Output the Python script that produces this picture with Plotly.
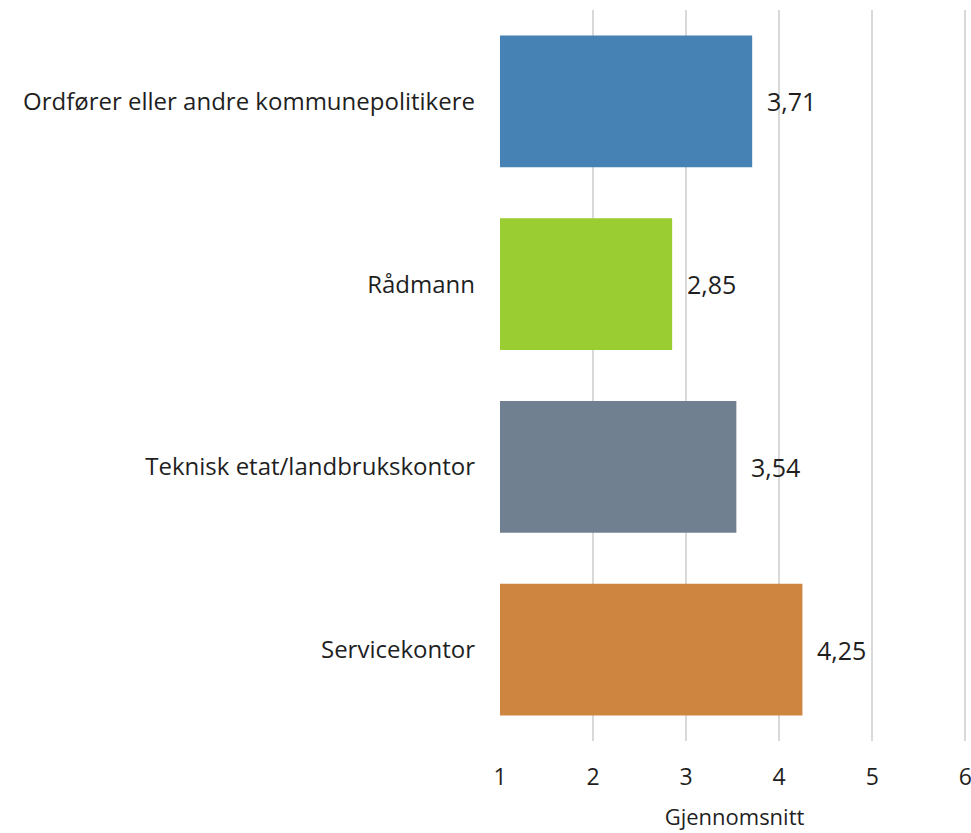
import plotly.graph_objects as go

# Data
categories = ["Ordfører eller andre kommunepolitikere", "Rådmann",
              "Teknisk etat/landbrukskontor", "Servicekontor"]
values = [3.71, 2.85, 3.54, 4.25]
colors = ["#4682B4", "#9ACD32", "#708090", "#CD853F"]
tick_vals = [1, 2, 3, 4, 5, 6]

font_family = "Open Sans, Noto Sans, sans-serif"
text_color = "#1f1f1f"

fig = go.Figure(go.Bar(
    y=categories,
    x=[v - 1 for v in values],
    base=1,
    orientation="h",
    marker=dict(color=colors, line=dict(width=0)),
    hoverinfo="skip",
))

# value labels to the right of each bar
for cat, val in zip(categories, values):
    fig.add_annotation(
        x=val, y=cat, text=f"{val:.2f}".replace(".", ","),
        showarrow=False, xanchor="left", xshift=13,
        font=dict(size=25, color=text_color, family=font_family),
    )

fig.update_layout(
    width=971, height=833,
    margin=dict(l=500, r=2, t=10, b=92),
    plot_bgcolor="white", paper_bgcolor="white",
    bargap=0.28,
    showlegend=False,
    font=dict(family=font_family, size=24, color=text_color),
)
fig.update_xaxes(
    range=[1, 6.04], tickvals=tick_vals, automargin=False,
    showgrid=True, gridcolor="#d9d9d9", gridwidth=2,
    zeroline=False, showline=False, ticks="",
    ticklabelstandoff=20, ticklabeloverflow="allow",
    title=dict(text="Gjennomsnitt", standoff=18, font=dict(size=22)),
    tickfont=dict(size=23),
)
fig.update_yaxes(
    autorange="reversed", showgrid=False, showline=False, ticks="",
    automargin=False,
    ticklabelstandoff=24, tickfont=dict(size=24),
)

# drop the default body margin so the figure fills the window exactly
fig.write_html(
    "out.html",
    config={"displayModeBar": False},
    post_script="document.body.style.margin='0';document.body.style.overflow='hidden';",
)
